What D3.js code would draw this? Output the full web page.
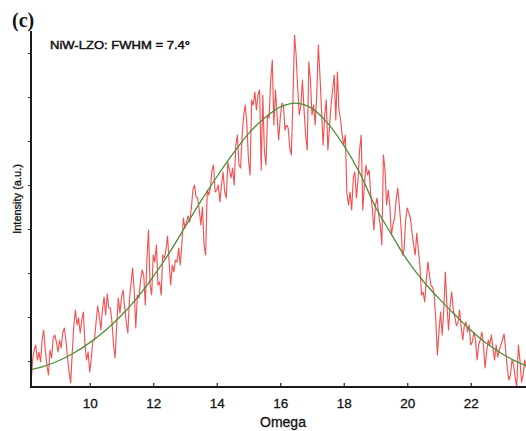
<!DOCTYPE html>
<html>
<head>
<meta charset="utf-8">
<script src="https://cdn.jsdelivr.net/npm/d3@7"></script>
<style>
  html, body { margin: 0; padding: 0; background: #fff; }
  svg { display: block; }
  text { font-family: "Liberation Sans", Arial, sans-serif; fill: #111; stroke: #111; stroke-width: 0.3px; }
</style>
</head>
<body>
<svg id="chart" width="526" height="431"></svg>
<script>
// Omega scan: measured intensity on a regular 0.05° grid starting at 8.15°
const omegaStart = 8.15;
const omegaStep = 0.05;
const intensity = [
  100, 225, 275, 300, 225, 265, 215, 325, 375, 275,
  200, 150, 275, 235, 335, 350, 315, 265, 325, 285,
  360, 385, 325, 235, 165, 110, 265, 400, 475, 400,
  435, 360, 425, 465, 300, 225, 265, 165, 235, 325,
  325, 415, 495, 445, 375, 475, 540, 450, 555, 485,
  485, 415, 300, 235, 400, 535, 460, 535, 575, 490,
  415, 360, 525, 610, 685, 575, 385, 550, 535, 625,
  675, 650, 500, 725, 875, 600, 550, 750, 715, 800,
  600, 615, 550, 750, 735, 775, 845, 715, 600, 700,
  665, 725, 715, 785, 700, 800, 935, 885, 915, 945,
  915, 985, 1075, 1100, 1040, 1035, 975, 900, 990, 800,
  750, 1075, 1050, 1085, 1175, 1200, 1065, 1075, 1100, 1015,
  1100, 1165, 1065, 1035, 1215, 1175, 1135, 1185, 1100, 1300,
  1350, 1200, 1185, 1350, 1450, 1500, 1400, 1225, 1150, 1525,
  1500, 1565, 1475, 1550, 1575, 1175, 1550, 1275, 1200, 1450,
  1435, 1625, 1725, 1400, 1575, 1450, 1325, 1435, 1510, 1500,
  1375, 1400, 1385, 1285, 1250, 1525, 1850, 1750, 1585, 1450,
  1500, 1625, 1475, 1350, 1275, 1715, 1625, 1450, 1500, 1400,
  1550, 1800, 1650, 1475, 1300, 1450, 1525, 1275, 1385, 1500,
  1575, 1650, 1425, 1665, 1475, 1425, 1350, 1300, 1350, 1060,
  1000, 1065, 975, 1135, 1165, 1035, 1125, 1275, 1350, 975,
  1100, 1200, 1150, 1175, 1050, 985, 875, 1000, 1035, 950,
  900, 800, 1250, 1175, 1000, 1075, 1000, 850, 900, 935,
  1025, 1085, 1000, 900, 750, 775, 925, 985, 960, 935,
  865, 800, 750, 860, 775, 700, 550, 565, 515, 625,
  715, 650, 595, 590, 550, 425, 250, 365, 465, 350,
  475, 665, 500, 375, 500, 565, 475, 440, 395, 415,
  475, 385, 325, 400, 415, 365, 400, 300, 315, 365,
  325, 225, 300, 325, 365, 300, 185, 265, 325, 300,
  350, 285, 225, 300, 240, 275, 300, 325, 355, 275,
  185, 125, 150, 225, 200, 135, 90, 300, 225, 115,
  150, 225, 185
];
const omega = intensity.map((_, i) => +(omegaStart + i * omegaStep).toFixed(2));

// Fitted peak profile (FWHM 7.4°)
const fitOmega = [
  8.0, 8.5, 9.0, 9.5, 10.0, 10.5, 11.0, 11.5, 12.0, 12.5, 13.0,
  13.5, 14.0, 14.5, 15.0, 15.5, 16.0, 16.5, 17.0, 17.5, 18.0, 18.5,
  19.0, 19.5, 20.0, 20.5, 21.0, 21.5, 22.0, 22.5, 23.0, 23.5, 24.0
];
const fitIntensity = [
  172, 191, 220, 260, 312, 374, 449, 537, 642, 759, 889,
  1019, 1140, 1254, 1357, 1434, 1489, 1509, 1483, 1408, 1298, 1162,
  990, 854, 724, 620, 532, 451, 374, 308, 255, 213, 180
];

const xTicks = [10, 12, 14, 16, 18, 20, 22];
const yTicks = [220, 440, 660, 880, 1100, 1320, 1540, 1760];

const panelLabel = "(c)";
const sampleLabel = "NiW-LZO: FWHM = 7.4°";
const xTitle = "Omega";
const yTitle = "Intensity (a.u.)";

const svg = d3.select("#chart");
const plotLeft = 31, plotRight = 526.3, plotTop = 31, plotBottom = 387;

const x = d3.scaleLinear().domain([8.15, 23.75]).range([plotLeft, plotRight]);
const y = d3.scaleLinear().domain([90, 1865]).range([plotBottom, 32]);

svg.append("defs").append("clipPath").attr("id", "plotArea")
  .append("rect")
  .attr("x", plotLeft).attr("y", 0)
  .attr("width", plotRight - plotLeft + 5).attr("height", plotBottom);

const plot = svg.append("g").attr("clip-path", "url(#plotArea)");

// measured scan
const rawLine = d3.line()
  .x((d, i) => x(omega[i]))
  .y(d => y(d));
plot.append("path")
  .datum(intensity)
  .attr("d", rawLine)
  .attr("fill", "none")
  .attr("stroke", "#f23434")
  .attr("stroke-opacity", 0.85)
  .attr("stroke-width", 1.15)
  .attr("stroke-linejoin", "round");

// fit curve
const fitLine = d3.line()
  .x((d, i) => x(fitOmega[i]))
  .y(d => y(d))
  .curve(d3.curveCatmullRom);
plot.append("path")
  .datum(fitIntensity)
  .attr("d", fitLine)
  .attr("fill", "none")
  .attr("stroke", "#4a8f3a")
  .attr("stroke-width", 1.3);

// axes
const xAxis = svg.append("g").attr("transform", `translate(0,${plotBottom})`)
  .call(d3.axisBottom(x).tickValues(xTicks).tickSizeInner(-4).tickSizeOuter(0).tickPadding(11));
xAxis.select(".domain").remove();
xAxis.selectAll(".tick line").attr("stroke", "#222").attr("stroke-width", 1.2);
xAxis.selectAll(".tick text")
  .style("font-family", "'Liberation Sans', Arial, sans-serif")
  .style("font-size", "13.5px").attr("fill", "#111");

const yAxis = svg.append("g").attr("transform", `translate(${plotLeft},0)`)
  .call(d3.axisLeft(y).tickValues(yTicks).tickSize(3).tickFormat(""));
yAxis.select(".domain").remove();
yAxis.selectAll(".tick line").attr("stroke", "#333").attr("stroke-width", 1);

svg.append("line")
  .attr("x1", plotLeft).attr("x2", plotLeft).attr("y1", plotTop).attr("y2", plotBottom + 1)
  .attr("stroke", "#1a1a1a").attr("stroke-width", 2);
svg.append("line")
  .attr("x1", plotLeft - 1).attr("x2", 526).attr("y1", plotBottom).attr("y2", plotBottom)
  .attr("stroke", "#1a1a1a").attr("stroke-width", 2);

// titles and labels
svg.append("text")
  .attr("x", 283).attr("y", 427)
  .attr("text-anchor", "middle")
  .style("font-size", "14px")
  .text(xTitle);

svg.append("text")
  .attr("transform", "translate(21,199) rotate(-90)")
  .attr("text-anchor", "middle")
  .style("font-size", "11px")
  .text(yTitle);

svg.append("text")
  .attr("x", 12).attr("y", 27)
  .style("font-family", "'Liberation Serif', 'Times New Roman', serif")
  .style("font-weight", "bold")
  .style("font-size", "20px")
  .style("stroke-width", "0px")
  .text(panelLabel);

svg.append("text")
  .attr("x", 50).attr("y", 49)
  .style("font-size", "11px")
  .style("stroke-width", "0.45px")
  .attr("textLength", 140)
  .attr("lengthAdjust", "spacingAndGlyphs")
  .text(sampleLabel);
</script>
</body>
</html>
